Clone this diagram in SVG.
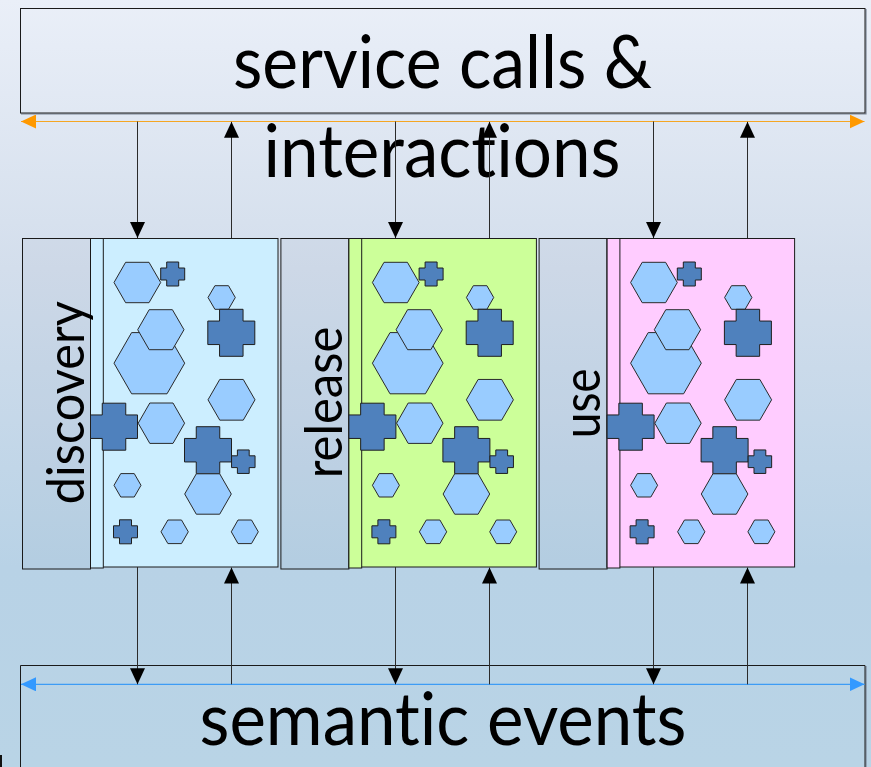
<svg xmlns="http://www.w3.org/2000/svg" xmlns:xlink="http://www.w3.org/1999/xlink" width="871" height="767" viewBox="0 0 871 767">
  <style>
    text { font-variant-ligatures: none; font-feature-settings: "liga" 0, "clig" 0, "dlig" 0; }
    .big { font-family: Lato, "Open Sans", "Liberation Sans", sans-serif; font-size: 73px; fill: #000; }
    .lbl { font-family: Lato, "Open Sans", "Liberation Sans", sans-serif; font-size: 53px; fill: #000; }
    .frame { fill: none; stroke: #1a1a1a; stroke-width: 1; }
    .shadow { fill: none; stroke: #7a8596; stroke-width: 1.2; }
    .tab { fill: #7f8fa6; fill-opacity: 0.07; stroke: #1a1a1a; stroke-width: 1; }
    .hex { fill: #99ccff; stroke: #2a2a2a; stroke-width: 1; }
    .cross { fill: #4f81bd; stroke: #1f1f1f; stroke-width: 1; }
    .flow { stroke: #2b2b2b; stroke-width: 1; fill: none; }
    .bus-top { stroke: #f5a623; stroke-width: 1; }
    .bus-bot { stroke: #3d9cf5; stroke-width: 1.2; }
  </style>
  <defs>
    <linearGradient id="bg" x1="0" y1="0" x2="0" y2="1">
      <stop offset="0" stop-color="#eaeff8"/>
      <stop offset="0.35" stop-color="#d3deec"/>
      <stop offset="0.74" stop-color="#b8d2e6"/>
      <stop offset="1" stop-color="#b9d4e6"/>
    </linearGradient>
    <marker id="ah" markerUnits="userSpaceOnUse" viewBox="0 0 16 15" markerWidth="16" markerHeight="15" refX="16" refY="7.5" orient="auto">
      <path d="M0,0 L16,7.5 L0,15 Z" fill="#000"/>
    </marker>
    <marker id="ah-orange" markerUnits="userSpaceOnUse" viewBox="0 0 15 14" markerWidth="15" markerHeight="14" refX="15" refY="7" orient="auto-start-reverse">
      <path d="M0,0 L15,7 L0,14 Z" fill="#ff9900"/>
    </marker>
    <marker id="ah-blue" markerUnits="userSpaceOnUse" viewBox="0 0 15 14" markerWidth="15" markerHeight="14" refX="15" refY="7" orient="auto-start-reverse">
      <path d="M0,0 L15,7 L0,14 Z" fill="#3399ff"/>
    </marker>
    <!-- services and components inside one phase panel -->
    <g id="components">
      <polygon class="hex" points="114,282.5 125.6,262.3 149,262.3 160.7,282.5 149,302.7 125.6,302.7"/>
      <path class="cross" d="M166.7,262 H178.7 V268 H184.7 V280 H178.7 V286 H166.7 V280 H160.7 V268 H166.7 Z"/>
      <polygon class="hex" points="208,297.5 214.9,285.7 228.5,285.7 235.3,297.5 228.5,309.3 214.9,309.3"/>
      <path class="cross" d="M219.55,309.3 H243.05 V321.05 H254.8 V344.55 H243.05 V356.3 H219.55 V344.55 H207.8 V321.05 H219.55 Z"/>
      <polygon class="hex" points="114,363.2 131.6,332.6 167,332.6 184.7,363.2 167,393.8 131.6,393.8"/>
      <polygon class="hex" points="137.7,329.7 149.2,309.7 172.4,309.7 184,329.7 172.4,349.7 149.2,349.7"/>
      <polygon class="hex" points="208,399.8 219.75,379.45 243.25,379.45 255,399.8 243.25,420.15 219.75,420.15"/>
      <path class="cross" d="M102.25,403.2 H125.75 V414.95 H137.5 V438.45 H125.75 V450.2 H102.25 V438.45 H90.5 V414.95 H102.25 Z"/>
      <polygon class="hex" points="138.2,423.2 149.8,403 173,403 184.6,423.2 173,443.4 149.8,443.4"/>
      <path class="cross" d="M196.25,426.7 H219.75 V438.45 H231.5 V461.95 H219.75 V473.7 H196.25 V461.95 H184.5 V438.45 H196.25 Z"/>
      <path class="cross" d="M237.4,449.95 H249.2 V455.8 H255.05 V467.6 H249.2 V473.45 H237.4 V467.6 H231.55 V455.8 H237.4 Z"/>
      <polygon class="hex" points="184.7,494 196.3,473.8 219.7,473.8 231.3,494 219.7,514.2 196.3,514.2"/>
      <polygon class="hex" points="114,485.3 120.75,473.6 134.25,473.6 141,485.3 134.25,497 120.75,497"/>
      <path class="cross" d="M119.5,519.8 H131.5 V525.8 H137.5 V537.8 H131.5 V543.8 H119.5 V537.8 H113.5 V525.8 H119.5 Z"/>
      <polygon class="hex" points="161,531.8 167.9,520 181.5,520 188.3,531.8 181.5,543.6 167.9,543.6"/>
      <polygon class="hex" points="231.3,531.8 238,520 251.5,520 258.3,531.8 251.5,543.6 238,543.6"/>
    </g>
  </defs>

  <!-- backdrop -->
  <rect x="0" y="0" width="871" height="767" fill="url(#bg)"/>

  <!-- top layer: service calls & interactions -->
  <g id="service-calls">
    <polyline class="shadow" points="866,9 866,114 21,114"/>
    <rect class="frame" x="20.5" y="8.5" width="844.5" height="104.5"/>
    <text class="big" x="442.5" y="88" text-anchor="middle" textLength="419" lengthAdjust="spacingAndGlyphs">service calls &amp;</text>
    <text class="big" x="442" y="177" text-anchor="middle" textLength="357" lengthAdjust="spacingAndGlyphs">interactions</text>
  </g>

  <!-- bottom layer: semantic events -->
  <g id="semantic-events">
    <line class="shadow" x1="866" y1="666" x2="866" y2="767"/>
    <polyline class="frame" points="20.5,767 20.5,665.5 865,665.5 865,767"/>
    <text class="big" x="443" y="745" text-anchor="middle" textLength="487" lengthAdjust="spacingAndGlyphs">semantic events</text>
  </g>

  <!-- phase panels -->
  <g id="discovery">
    <rect class="tab" x="22.5" y="238.5" width="68" height="330.5"/>
    <rect x="90.5" y="238.5" width="187.5" height="328.5" fill="#cceeff" stroke="#1a1a1a"/>
    <rect x="90.5" y="238.5" width="12.8" height="329.5" fill="#cceeff" stroke="#1a1a1a"/>
    <use xlink:href="#components"/>
    <text class="lbl" transform="translate(83.5,402.7) rotate(-90)" text-anchor="middle" textLength="203" lengthAdjust="spacingAndGlyphs">discovery</text>
  </g>
  <g id="release" transform="translate(258.4,0)">
    <rect class="tab" x="22.5" y="238.5" width="68" height="330.5"/>
    <rect x="90.5" y="238.5" width="187.5" height="328.5" fill="#ccff99" stroke="#1a1a1a"/>
    <rect x="90.5" y="238.5" width="12.8" height="329.5" fill="#ccff99" stroke="#1a1a1a"/>
    <use xlink:href="#components"/>
    <text class="lbl" transform="translate(83.5,402.5) rotate(-90)" text-anchor="middle" textLength="151.6" lengthAdjust="spacingAndGlyphs">release</text>
  </g>
  <g id="use" transform="translate(516.6,0)">
    <rect class="tab" x="22.5" y="238.5" width="68" height="330.5"/>
    <rect x="90.5" y="238.5" width="187.5" height="328.5" fill="#ffccff" stroke="#1a1a1a"/>
    <rect x="90.5" y="238.5" width="12.8" height="329.5" fill="#ffccff" stroke="#1a1a1a"/>
    <use xlink:href="#components"/>
    <text class="lbl" transform="translate(83.8,403.3) rotate(-90)" text-anchor="middle" textLength="70" lengthAdjust="spacingAndGlyphs">use</text>
  </g>

  <!-- connectors -->
  <g id="connectors">
    <line class="bus-top" x1="21" y1="121.5" x2="864.5" y2="121.5" marker-start="url(#ah-orange)" marker-end="url(#ah-orange)"/>
    <line class="bus-bot" x1="21" y1="684.3" x2="864.5" y2="684.3" marker-start="url(#ah-blue)" marker-end="url(#ah-blue)"/>

    <line class="flow" x1="137.5" y1="121.5" x2="137.5" y2="238" marker-end="url(#ah)"/>
    <line class="flow" x1="231.5" y1="238" x2="231.5" y2="121.8" marker-end="url(#ah)"/>
    <line class="flow" x1="395.5" y1="121.5" x2="395.5" y2="238" marker-end="url(#ah)"/>
    <line class="flow" x1="489.5" y1="238" x2="489.5" y2="121.8" marker-end="url(#ah)"/>
    <line class="flow" x1="653.5" y1="121.5" x2="653.5" y2="238" marker-end="url(#ah)"/>
    <line class="flow" x1="747.5" y1="238" x2="747.5" y2="121.8" marker-end="url(#ah)"/>

    <line class="flow" x1="137.5" y1="567" x2="137.5" y2="684.3" marker-end="url(#ah)"/>
    <line class="flow" x1="231.5" y1="684.3" x2="231.5" y2="567.5" marker-end="url(#ah)"/>
    <line class="flow" x1="395.5" y1="567" x2="395.5" y2="684.3" marker-end="url(#ah)"/>
    <line class="flow" x1="489.5" y1="684.3" x2="489.5" y2="567.5" marker-end="url(#ah)"/>
    <line class="flow" x1="653.5" y1="567" x2="653.5" y2="684.3" marker-end="url(#ah)"/>
    <line class="flow" x1="747.5" y1="684.3" x2="747.5" y2="567.5" marker-end="url(#ah)"/>
  </g>

  <!-- edge stroke at the lower left -->
  <rect x="0" y="755" width="2" height="12" fill="#111"/>
</svg>
